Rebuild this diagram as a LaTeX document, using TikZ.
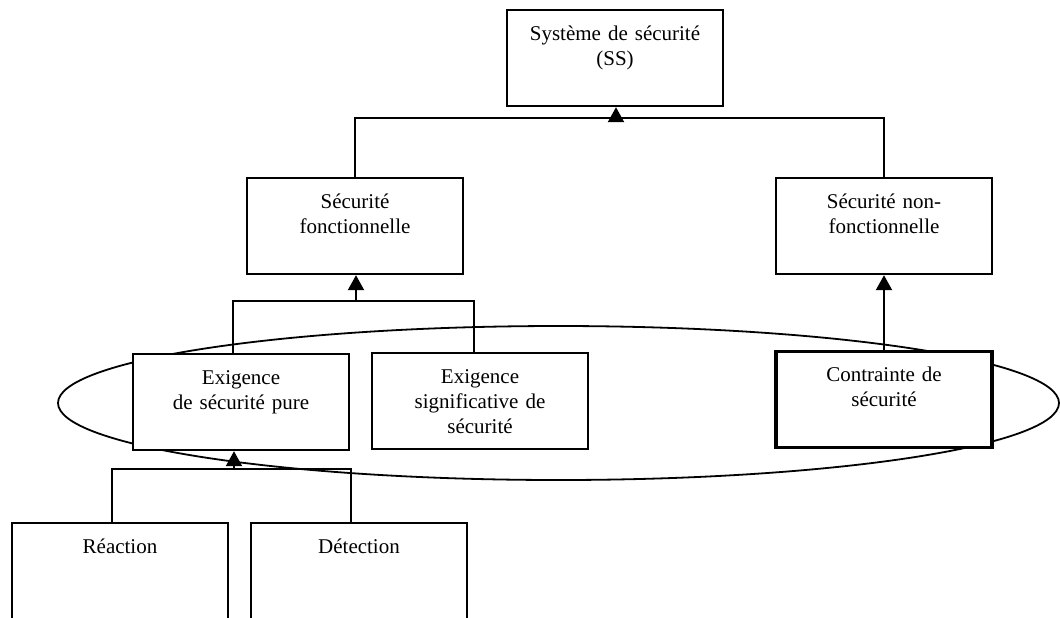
\documentclass[tikz,border=0pt]{standalone}
\usepackage{fontspec}
\setmainfont{Liberation Serif}
\usetikzlibrary{arrows.meta,calc}
\tikzset{
  secbox/.style    = {shape=rectangle, draw, fill=white, line width=1.1pt,
                      anchor=north, text width=100pt, align=center,
                      inner xsep=4pt, inner ysep=0pt,
                      text height=15pt, text depth=33pt,
                      font=\fontsize{10.5}{12.5}\selectfont},
  strongbox/.style = {secbox, line width=1.6pt},
  openbox/.style   = {secbox, text depth=60pt},
  joinline/.style  = {line width=1.1pt},
  uparrow/.style   = {joinline, -{Triangle[width=8pt,length=7.5pt]}},
  group/.style     = {line width=0.9pt}
}

\begin{document}
\begin{tikzpicture}[x=0.5pt, y=-0.5pt]
  \useasboundingbox (0,0) rectangle (1060,617);
  \clip (0,0) rectangle (1060,617);

  % the three kinds of requirement
  \draw[group] (558.5,403) ellipse [x radius=500.5, y radius=77];

  \node[secbox]    (ss)  at (615,9)   {Système de sécurité\\(SS)};
  \node[secbox]    (sf)  at (355,177) {Sécurité\\fonctionnelle};
  \node[secbox]    (snf) at (884,177) {Sécurité non-\\fonctionnelle};
  \node[secbox]    (ep)  at (241,353) {Exigence\\de sécurité pure};
  \node[secbox]    (es)  at (480,352) {Exigence\\significative de\\sécurité};
  \node[strongbox] (ct)  at (884,350) {Contrainte de\\sécurité};
  \node[openbox]   (re)  at (120,522) {Réaction};
  \node[openbox]   (de)  at (359,522) {Détection};

  \coordinate (ssjoin) at (616,118);
  \coordinate (sfjoin) at (356,301);
  \coordinate (epjoin) at (234,469);

  \draw[joinline] (sf.north) |- (ssjoin) -| (snf.north);
  \draw[uparrow]  (ssjoin) -- (ssjoin |- ss.south);

  \draw[joinline] ($(ep.north)+(-8,0)$) |- (sfjoin) -| ($(es.north)+(-6,0)$);
  \draw[uparrow]  (sfjoin) -- (sfjoin |- sf.south);

  \draw[uparrow]  (ct.north) -- (snf.south);

  \draw[joinline] ($(re.north)+(-8,0)$) |- (epjoin) -| ($(de.north)+(-8,0)$);
  \draw[uparrow]  (epjoin) -- (epjoin |- ep.south);
\end{tikzpicture}
\end{document}
